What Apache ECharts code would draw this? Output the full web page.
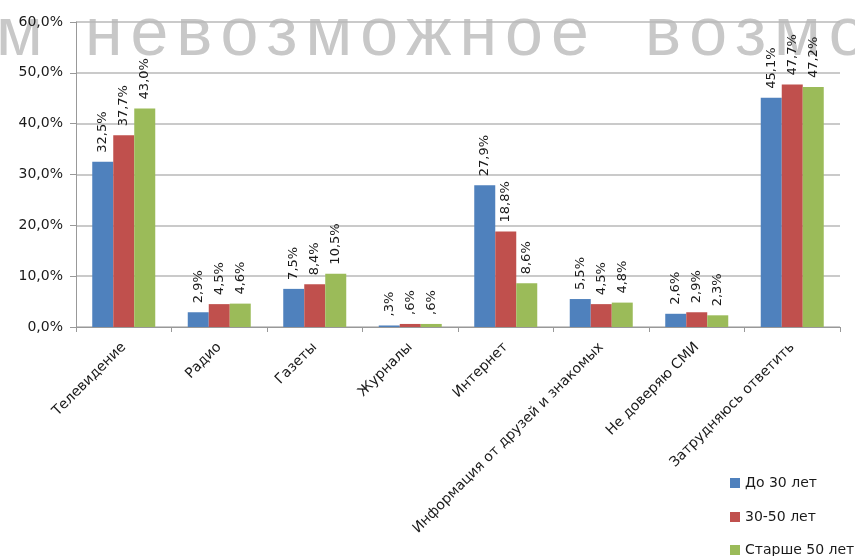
<!DOCTYPE html>
<html>
<head>
<meta charset="utf-8">
<script src="https://cdn.jsdelivr.net/npm/echarts@6/dist/echarts.min.js"></script>
<style>
  html, body { margin: 0; padding: 0; background: #fff; }
  #chart { width: 855px; height: 556px; }
</style>
</head>
<body>
<div id="chart"></div>
<script>
// categories and values (percent)
var categories = ['Телевидение', 'Радио', 'Газеты', 'Журналы', 'Интернет',
  'Информация от друзей и знакомых', 'Не доверяю СМИ', 'Затрудняюсь ответить'];
var seriesNames = ['До 30 лет', '30-50 лет', 'Старше 50 лет'];
var under30 = [32.5, 2.9, 7.5, 0.3, 27.9, 5.5, 2.6, 45.1];
var from30to50 = [37.7, 4.5, 8.4, 0.6, 18.8, 4.5, 2.9, 47.7];
var over50 = [43.0, 4.6, 10.5, 0.6, 8.6, 4.8, 2.3, 47.2];
var colors = ['#4f81bd', '#c0504d', '#9bbb59'];
// watermark words across the top
var wmWords = ['м', 'невозможное', 'возможное'];

var chart = echarts.init(document.getElementById('chart'));
var FONT = '"DejaVu Sans"';

// excel style: 32,5%  and  ,3% for values under 1
function fmtPct(v) {
  var s = v.toFixed(1).replace('.', ',');
  if (s.indexOf('0,') === 0) s = s.substring(1);
  return s + '%';
}

// watermark drawn letter by letter, wide letter spacing like the scan
function buildWatermark() {
  var wmFont = '68px "Liberation Sans"';
  var ctx = document.createElement('canvas').getContext('2d');
  ctx.font = wmFont;
  var starts = [-4, 85, 645];
  var spacing = 8;
  var els = [];
  for (var w = 0; w < wmWords.length; w++) {
    var x = starts[w];
    for (var i = 0; i < wmWords[w].length; i++) {
      var ch = wmWords[w][i];
      els.push({
        type: 'text',
        x: x,
        y: 36,
        z: -100,
        silent: true,
        style: {
          text: ch,
          fill: '#c8c8c8',
          font: wmFont,
          verticalAlign: 'middle'
        }
      });
      x += ctx.measureText(ch).width + spacing;
    }
  }
  return els;
}

function makeSeries(name, data, color) {
  return {
    name: name,
    type: 'bar',
    data: data,
    barWidth: 21,
    barGap: '0%',
    itemStyle: { color: color },
    label: {
      show: true,
      position: 'top',
      rotate: 90,
      align: 'left',
      verticalAlign: 'middle',
      distance: 9,
      color: '#1a1a1a',
      fontSize: 13,
      fontFamily: FONT,
      formatter: function (p) { return fmtPct(p.value); }
    }
  };
}

function makeLegend(name, top) {
  return {
    orient: 'vertical',
    left: 730,
    top: top,
    padding: 0,
    itemWidth: 10,
    itemHeight: 10,
    itemGap: 4,
    icon: 'rect',
    textStyle: { color: '#1a1a1a', fontSize: 14, fontFamily: FONT },
    data: [name]
  };
}

var option = {
  animation: false,
  color: colors,
  graphic: {
    z: -100,
    elements: buildWatermark()
  },
  grid: {
    left: 76,
    right: 15,
    top: 22,
    bottom: 229
  },
  legend: [
    makeLegend(seriesNames[0], 476),
    makeLegend(seriesNames[1], 510),
    makeLegend(seriesNames[2], 543)
  ],
  xAxis: {
    type: 'category',
    data: categories,
    axisLine: { lineStyle: { color: '#999' } },
    axisTick: { show: true, length: 5, lineStyle: { color: '#999' } },
    axisLabel: {
      rotate: 45,
      interval: 0,
      color: '#1a1a1a',
      fontSize: 14,
      fontFamily: FONT,
      margin: 18
    }
  },
  yAxis: {
    type: 'value',
    min: 0,
    max: 60,
    interval: 10,
    axisLine: { show: true, lineStyle: { color: '#999' } },
    axisTick: { show: true, length: 6, lineStyle: { color: '#999' } },
    splitLine: { lineStyle: { color: '#b8b8b8', width: 1.5 } },
    axisLabel: {
      color: '#1a1a1a',
      fontSize: 14,
      fontFamily: FONT,
      margin: 13,
      formatter: function (v) { return v.toFixed(1).replace('.', ',') + '%'; }
    }
  },
  series: [
    makeSeries(seriesNames[0], under30, colors[0]),
    makeSeries(seriesNames[1], from30to50, colors[1]),
    makeSeries(seriesNames[2], over50, colors[2])
  ]
};

chart.setOption(option);
window.addEventListener('resize', function () { chart.resize(); });
</script>
</body>
</html>
